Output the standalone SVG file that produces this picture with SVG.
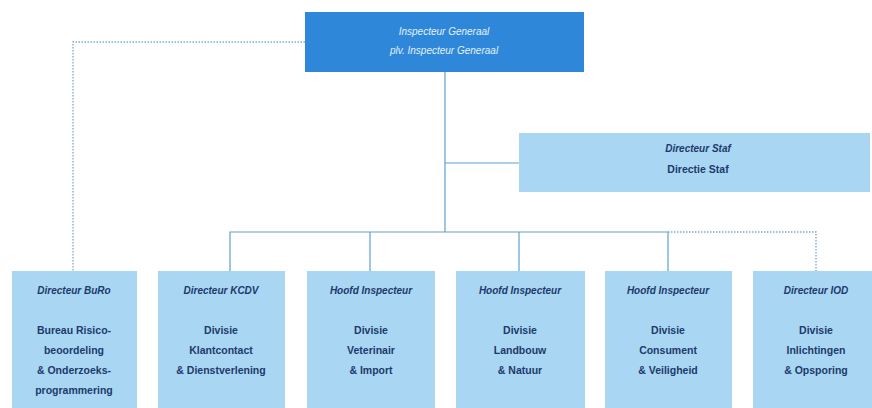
<svg xmlns="http://www.w3.org/2000/svg" width="872" height="408" viewBox="0 0 872 408">
<style>
.bg{fill:#ffffff}
.box{fill:#a8d6f3}
.top{fill:#2f87da}
.ln{fill:none;stroke:#5f9fcf;stroke-width:1.2}
.dot{fill:none;stroke:#7eaed6;stroke-width:1.4;stroke-dasharray:1.5 1.5}
.t{font-family:"Liberation Sans",Arial,sans-serif;text-anchor:middle}
.hd{font-size:10px;font-weight:bold;font-style:italic;fill:#1d3a6a}
.bd{font-size:10.5px;font-weight:bold;fill:#1d3a6a}
.wt{font-size:10px;font-style:italic;fill:#e4f0fb}
</style>
<rect class="bg" x="0" y="0" width="872" height="408"/>
<g id="connectors">
<path class="ln" d="M445 72 V232"/>
<path class="ln" d="M445 163 H519"/>
<path class="ln" d="M230 271 V232 H668 V271"/>
<path class="ln" d="M370 232 V271"/>
<path class="ln" d="M519 232 V271"/>
<path class="dot" d="M668 232 H816 V271"/>
<path class="dot" d="M305 42 H73 V271"/>
</g>
<g id="inspecteur-generaal">
<rect class="top" x="305" y="12" width="279" height="60"/>
<text class="t wt" x="444" y="35">Inspecteur Generaal</text>
<text class="t wt" x="444" y="54">plv. Inspecteur Generaal</text>
</g>
<g id="directie-staf">
<rect class="box" x="519" y="133" width="351" height="59"/>
<text class="t hd" x="698" y="152">Directeur Staf</text>
<text class="t bd" x="698" y="173">Directie Staf</text>
</g>
<g id="buro">
<rect class="box" x="12" y="271" width="125" height="140"/>
<text class="t hd" x="74" y="294">Directeur BuRo</text>
<text class="t bd" x="74" y="334">Bureau Risico-</text>
<text class="t bd" x="74" y="354">beoordeling</text>
<text class="t bd" x="74" y="374">&amp; Onderzoeks-</text>
<text class="t bd" x="74" y="394">programmering</text>
</g>
<g id="kcdv">
<rect class="box" x="158" y="271" width="127" height="140"/>
<text class="t hd" x="221" y="294">Directeur KCDV</text>
<text class="t bd" x="221" y="334">Divisie</text>
<text class="t bd" x="221" y="354">Klantcontact</text>
<text class="t bd" x="221" y="374">&amp; Dienstverlening</text>
</g>
<g id="veterinair">
<rect class="box" x="307" y="271" width="128" height="140"/>
<text class="t hd" x="371" y="294">Hoofd Inspecteur</text>
<text class="t bd" x="371" y="334">Divisie</text>
<text class="t bd" x="371" y="354">Veterinair</text>
<text class="t bd" x="371" y="374">&amp; Import</text>
</g>
<g id="landbouw">
<rect class="box" x="456" y="271" width="129" height="140"/>
<text class="t hd" x="520" y="294">Hoofd Inspecteur</text>
<text class="t bd" x="520" y="334">Divisie</text>
<text class="t bd" x="520" y="354">Landbouw</text>
<text class="t bd" x="520" y="374">&amp; Natuur</text>
</g>
<g id="consument">
<rect class="box" x="605" y="271" width="127" height="140"/>
<text class="t hd" x="668" y="294">Hoofd Inspecteur</text>
<text class="t bd" x="668" y="334">Divisie</text>
<text class="t bd" x="668" y="354">Consument</text>
<text class="t bd" x="668" y="374">&amp; Veiligheid</text>
</g>
<g id="iod">
<rect class="box" x="753" y="271" width="127" height="140"/>
<text class="t hd" x="816" y="294">Directeur IOD</text>
<text class="t bd" x="816" y="334">Divisie</text>
<text class="t bd" x="816" y="354">Inlichtingen</text>
<text class="t bd" x="816" y="374">&amp; Opsporing</text>
</g>
</svg>
